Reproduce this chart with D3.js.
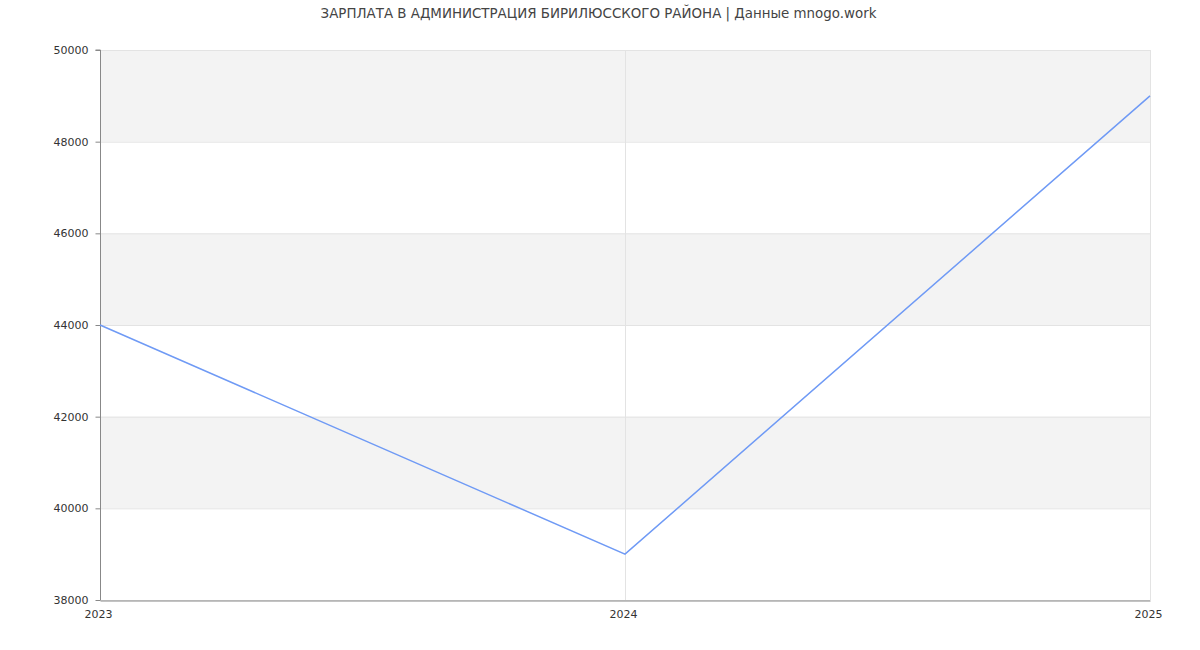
<!DOCTYPE html>
<html><head><meta charset="utf-8">
<script src="https://cdn.jsdelivr.net/npm/d3@7"></script>
<style>body{margin:0;background:#fff}svg{display:block}text{font-family:"DejaVu Sans",sans-serif}</style>
</head><body><svg id="c" width="1200" height="650"></svg>
<script>
const years = [2023, 2024, 2025];
const salaries = [44000, 39000, 49000];
const yTicks = [38000, 40000, 42000, 44000, 46000, 48000, 50000];
const title = "ЗАРПЛАТА В АДМИНИСТРАЦИЯ БИРИЛЮССКОГО РАЙОНА | Данные mnogo.work";

const svg = d3.select("#c");
const L = 100, R = 1150, T = 50, B = 600;
const x = d3.scaleLinear().domain([2023, 2025]).range([L, R]);
const y = d3.scaleLinear().domain([38000, 50000]).range([B, T]);

// bands
for (let i = 0; i < yTicks.length - 1; i++) {
  if (i % 2 === 1) {
    svg.append("rect").attr("x", L).attr("width", R - L)
      .attr("y", y(yTicks[i + 1])).attr("height", y(yTicks[i]) - y(yTicks[i + 1]))
      .attr("fill", "#f3f3f3");
  }
}
// horizontal grid
svg.append("g").selectAll("line").data(yTicks).join("line")
  .attr("x1", L).attr("x2", R).attr("y1", d => y(d) + 0.5).attr("y2", d => y(d) + 0.5)
  .attr("stroke", "#e3e3e3").attr("stroke-width", 1);
// vertical grid
svg.append("g").selectAll("line").data(years).join("line")
  .attr("x1", d => Math.round(x(d)) + 0.5).attr("x2", d => Math.round(x(d)) + 0.5)
  .attr("y1", T).attr("y2", B)
  .attr("stroke", "#e3e3e3").attr("stroke-width", 1);

// y axis
const ya = svg.append("g").attr("transform", `translate(${L + 0.5},0)`)
  .call(d3.axisLeft(y).tickValues(yTicks).tickFormat(d3.format("d")).tickSize(5).tickPadding(7));
ya.select(".domain").attr("stroke", "#888").attr("d", `M-5,${T}H0V${B}`);
ya.selectAll(".tick line").attr("stroke", "#888");
ya.selectAll("text").attr("fill", "#333").style("font-size", "11px").style("font-family", "DejaVu Sans");

// x axis
const xa = svg.append("g").attr("transform", `translate(0,${B + 0.5})`)
  .call(d3.axisBottom(x).tickValues(years).tickFormat(d3.format("d")).tickSize(0).tickPadding(10));
xa.select(".domain").attr("stroke", "#888");
xa.selectAll("text").attr("fill", "#333").attr("dx", -2).style("font-size", "11px").style("font-family", "DejaVu Sans");

// line
const line = d3.line().x((d, i) => x(years[i])).y(d => y(d));
svg.append("path").datum(salaries).attr("d", line)
  .attr("fill", "none").attr("stroke", "#6f9af5").attr("stroke-width", 1.5);

// title
svg.append("text").attr("x", 598.5).attr("y", 18).attr("text-anchor", "middle")
  .attr("fill", "#444").style("font-size", "13.4px").text(title);
</script></body></html>
